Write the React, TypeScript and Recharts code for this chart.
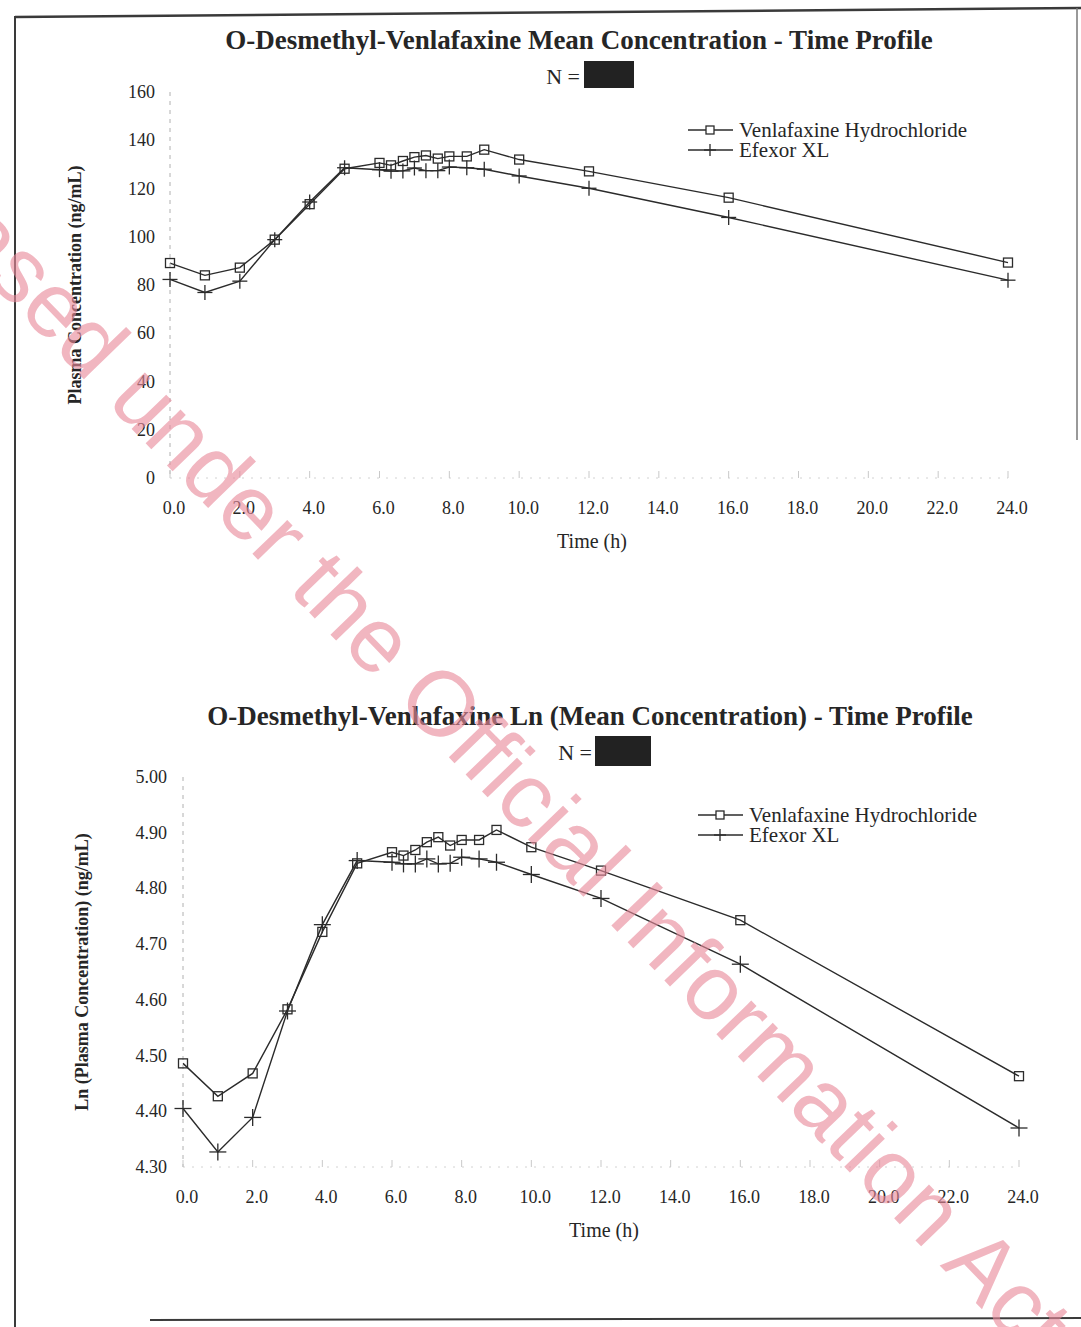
import React from 'react';
import { LineChart, Line, XAxis, YAxis, Legend } from 'recharts';

// Sampling times (h)
const TIMES = [0, 1, 2, 3, 4, 5, 6, 6.33, 6.67, 7, 7.33, 7.67, 8, 8.5, 9, 10, 12, 16, 24];

// Mean plasma concentration (ng/mL)
const MEAN_VH = [89.1, 84.0, 87.2, 98.8, 113.5, 128.2, 130.6, 129.6, 131.4, 133.0, 133.7, 132.4, 133.3, 133.3, 136.1, 132.0, 127.1, 116.2, 89.3];
const MEAN_EX = [82.3, 76.9, 81.6, 98.8, 114.4, 128.6, 127.8, 127.2, 127.3, 128.5, 127.4, 127.4, 128.9, 128.6, 128.0, 125.2, 120.1, 108.0, 82.0];

// Ln of mean concentration
const LN_VH = [4.486, 4.427, 4.468, 4.583, 4.722, 4.845, 4.865, 4.859, 4.869, 4.883, 4.892, 4.877, 4.887, 4.887, 4.905, 4.874, 4.832, 4.743, 4.463];
const LN_EX = [4.405, 4.327, 4.389, 4.580, 4.735, 4.850, 4.847, 4.844, 4.844, 4.853, 4.844, 4.845, 4.856, 4.853, 4.847, 4.825, 4.782, 4.664, 4.370];

const X_TICKS = [0, 2, 4, 6, 8, 10, 12, 14, 16, 18, 20, 22, 24];
const MEAN_TICKS = [0, 20, 40, 60, 80, 100, 120, 140, 160];
const LN_TICKS = [4.3, 4.4, 4.5, 4.6, 4.7, 4.8, 4.9, 5.0];

const SERIES_VH = 'Venlafaxine Hydrochloride';
const SERIES_EX = 'Efexor XL';

const meanRows = TIMES.map((t, i) => ({ t, vh: MEAN_VH[i], ex: MEAN_EX[i] }));
const lnRows = TIMES.map((t, i) => ({ t, vh: LN_VH[i], ex: LN_EX[i] }));

const SERIF = "'Liberation Serif', 'Times New Roman', serif";
const INK = '#262626';
const LINE = '#2b2b2b';
const Y_AXIS_W = 60;
const X_AXIS_H = 40;

const squareDot = (size: number) => (p: any) => {
  if (p.cx == null || p.cy == null) return <g key={`sq${p.index}`} />;
  const h = size / 2;
  return (
    <rect key={`sq${p.index}`} x={p.cx - h} y={p.cy - h} width={size} height={size}
      fill="none" stroke={LINE} strokeWidth={1.3} />
  );
};

const plusDot = (size: number) => (p: any) => {
  if (p.cx == null || p.cy == null) return <g key={`pl${p.index}`} />;
  const h = size / 2;
  return (
    <g key={`pl${p.index}`} stroke={LINE} strokeWidth={1.3}>
      <line x1={p.cx - h} x2={p.cx + h} y1={p.cy} y2={p.cy} />
      <line x1={p.cx} x2={p.cx} y1={p.cy - h} y2={p.cy + h} />
    </g>
  );
};

const xTick = (p: any) => (
  <g>
    <line x1={p.x} x2={p.x} y1={p.y - 7} y2={p.y} stroke="#c9c9c9" strokeWidth={1} />
    <text x={p.x + 4} y={p.y + 30} textAnchor="middle" dominantBaseline="central"
      fontFamily={SERIF} fontSize={18} fill={INK}>
      {Number(p.payload.value).toFixed(1)}
    </text>
  </g>
);

const yTick = (digits: number, gap: number) => (p: any) => (
  <text x={p.x - gap} y={p.y} textAnchor="end" dominantBaseline="central"
    fontFamily={SERIF} fontSize={18} fill={INK}>
    {Number(p.payload.value).toFixed(digits)}
  </text>
);

const LEGEND_ORDER = ['vh', 'ex'];

const legendContent = (sq: number, pl: number) => (props: any) => {
  const items = [...(props.payload || [])].sort(
    (a: any, b: any) => LEGEND_ORDER.indexOf(a.dataKey) - LEGEND_ORDER.indexOf(b.dataKey)
  );
  return (
    <div style={{ fontFamily: SERIF, fontSize: 21, color: INK, lineHeight: '20px' }}>
      {items.map((it: any) => (
        <div key={it.value} style={{ display: 'flex', alignItems: 'center', height: 20 }}>
          <svg width={46} height={20} style={{ display: 'block' }}>
            <line x1={0} x2={45} y1={10} y2={10} stroke={LINE} strokeWidth={1.4} />
            {it.dataKey === 'vh' ? (
              <rect x={22 - sq / 2} y={10 - sq / 2} width={sq} height={sq} fill="#fff" stroke={LINE} strokeWidth={1.3} />
            ) : (
              <g stroke={LINE} strokeWidth={1.3}>
                <line x1={22 - pl / 2} x2={22 + pl / 2} y1={10} y2={10} />
                <line x1={22} x2={22} y1={10 - pl / 2} y2={10 + pl / 2} />
              </g>
            )}
          </svg>
          <span style={{ marginLeft: 5, whiteSpace: 'nowrap' }}>{it.value}</span>
        </div>
      ))}
    </div>
  );
};

const WATERMARK = 'Released under the Official Information Act';

export default function App() {
  return (
    <div style={{ position: 'absolute', left: 0, top: 0, width: 1081, height: 1327, background: '#fff', overflow: 'hidden' }}>
      {/* Mean concentration profile: plot area x 170..1008, y 92..478 */}
      <div style={{ position: 'absolute', left: 0, top: 0 }}>
        <LineChart width={1081} height={620} data={meanRows}
          margin={{ top: 92, right: 73, bottom: 142 - X_AXIS_H, left: 170 - Y_AXIS_W }}>
          <XAxis dataKey="t" type="number" domain={[0, 24]} ticks={X_TICKS} height={X_AXIS_H}
            tickSize={0} tickMargin={0} tick={xTick} interval={0}
            axisLine={{ stroke: '#d2d2d2', strokeDasharray: '2 7' }} />
          <YAxis type="number" domain={[0, 160]} ticks={MEAN_TICKS} width={Y_AXIS_W}
            tickSize={0} tickMargin={0} tick={yTick(0, 15)} interval={0}
            axisLine={{ stroke: '#b0b0b0', strokeDasharray: '4 5' }} />
          <Legend layout="vertical" align="center" verticalAlign="middle"
            wrapperStyle={{ left: 688, top: 120, width: 330, height: 40 }}
            content={legendContent(8, 12)} />
          <Line type="linear" dataKey="vh" name={SERIES_VH} stroke={LINE} strokeWidth={1.4}
            dot={squareDot(9)} activeDot={false} isAnimationActive={false} />
          <Line type="linear" dataKey="ex" name={SERIES_EX} stroke={LINE} strokeWidth={1.4}
            dot={plusDot(15)} activeDot={false} isAnimationActive={false} />
        </LineChart>
      </div>

      {/* Ln of mean concentration profile: plot area x 183..1019, y 777..1167 */}
      <div style={{ position: 'absolute', left: 0, top: 640 }}>
        <LineChart width={1081} height={640} data={lnRows}
          margin={{ top: 137, right: 62, bottom: 113 - X_AXIS_H, left: 183 - Y_AXIS_W }}>
          <XAxis dataKey="t" type="number" domain={[0, 24]} ticks={X_TICKS} height={X_AXIS_H}
            tickSize={0} tickMargin={0} tick={xTick} interval={0}
            axisLine={{ stroke: '#d2d2d2', strokeDasharray: '2 7' }} />
          <YAxis type="number" domain={[4.3, 5.0]} ticks={LN_TICKS} width={Y_AXIS_W}
            tickSize={0} tickMargin={0} tick={yTick(2, 16)} interval={0}
            axisLine={{ stroke: '#b0b0b0', strokeDasharray: '4 5' }} />
          <Legend layout="vertical" align="center" verticalAlign="middle"
            wrapperStyle={{ left: 698, top: 165, width: 330, height: 40 }}
            content={legendContent(8, 12)} />
          <Line type="linear" dataKey="vh" name={SERIES_VH} stroke={LINE} strokeWidth={1.4}
            dot={squareDot(9)} activeDot={false} isAnimationActive={false} />
          <Line type="linear" dataKey="ex" name={SERIES_EX} stroke={LINE} strokeWidth={1.4}
            dot={plusDot(17)} activeDot={false} isAnimationActive={false} />
        </LineChart>
      </div>

      {/* Titles, axis labels, page frame and stamp */}
      <svg width={1081} height={1327} style={{ position: 'absolute', left: 0, top: 0, pointerEvents: 'none' }}>
        <g stroke="#3a3a3a" fill="none">
          <line x1={15} y1={17} x2={1081} y2={8} strokeWidth={2.5} />
          <line x1={15} y1={16} x2={15} y2={1327} strokeWidth={2} />
          <line x1={1077} y1={8} x2={1077} y2={440} strokeWidth={1.5} stroke="#777" />
          <line x1={150} y1={1320} x2={1081} y2={1318} strokeWidth={2} />
        </g>

        <g fontFamily={SERIF} fill={INK}>
          <text x={579} y={40} textAnchor="middle" dominantBaseline="central" fontSize={27} fontWeight="bold">
            O-Desmethyl-Venlafaxine Mean Concentration - Time Profile
          </text>
          <text x={580} y={76} textAnchor="end" dominantBaseline="central" fontSize={22}>N =</text>
          <rect x={584} y={61} width={50} height={27} fill="#222" />

          <text x={592} y={541} textAnchor="middle" dominantBaseline="central" fontSize={20}>Time (h)</text>
          <text x={75} y={285} textAnchor="middle" dominantBaseline="central" fontSize={18} fontWeight="bold"
            transform="rotate(-90 75 285)">Plasma Concentration (ng/mL)</text>

          <text x={590} y={716} textAnchor="middle" dominantBaseline="central" fontSize={27} fontWeight="bold">
            O-Desmethyl-Venlafaxine Ln (Mean Concentration) - Time Profile
          </text>
          <text x={592} y={752} textAnchor="end" dominantBaseline="central" fontSize={22}>N =</text>
          <rect x={595} y={736} width={56} height={30} fill="#222" />

          <text x={604} y={1230} textAnchor="middle" dominantBaseline="central" fontSize={20}>Time (h)</text>
          <text x={82} y={972} textAnchor="middle" dominantBaseline="central" fontSize={18} fontWeight="bold"
            transform="rotate(-90 82 972)">Ln (Plasma Concentration) (ng/mL)</text>
        </g>

        <text x={-182} y={104} transform="rotate(46 -182 104)"
          fontFamily="'Liberation Sans', Arial, sans-serif" fontSize={92}
          fill="#e98a9b" opacity={0.62}>
          {WATERMARK}
        </text>
      </svg>
    </div>
  );
}
